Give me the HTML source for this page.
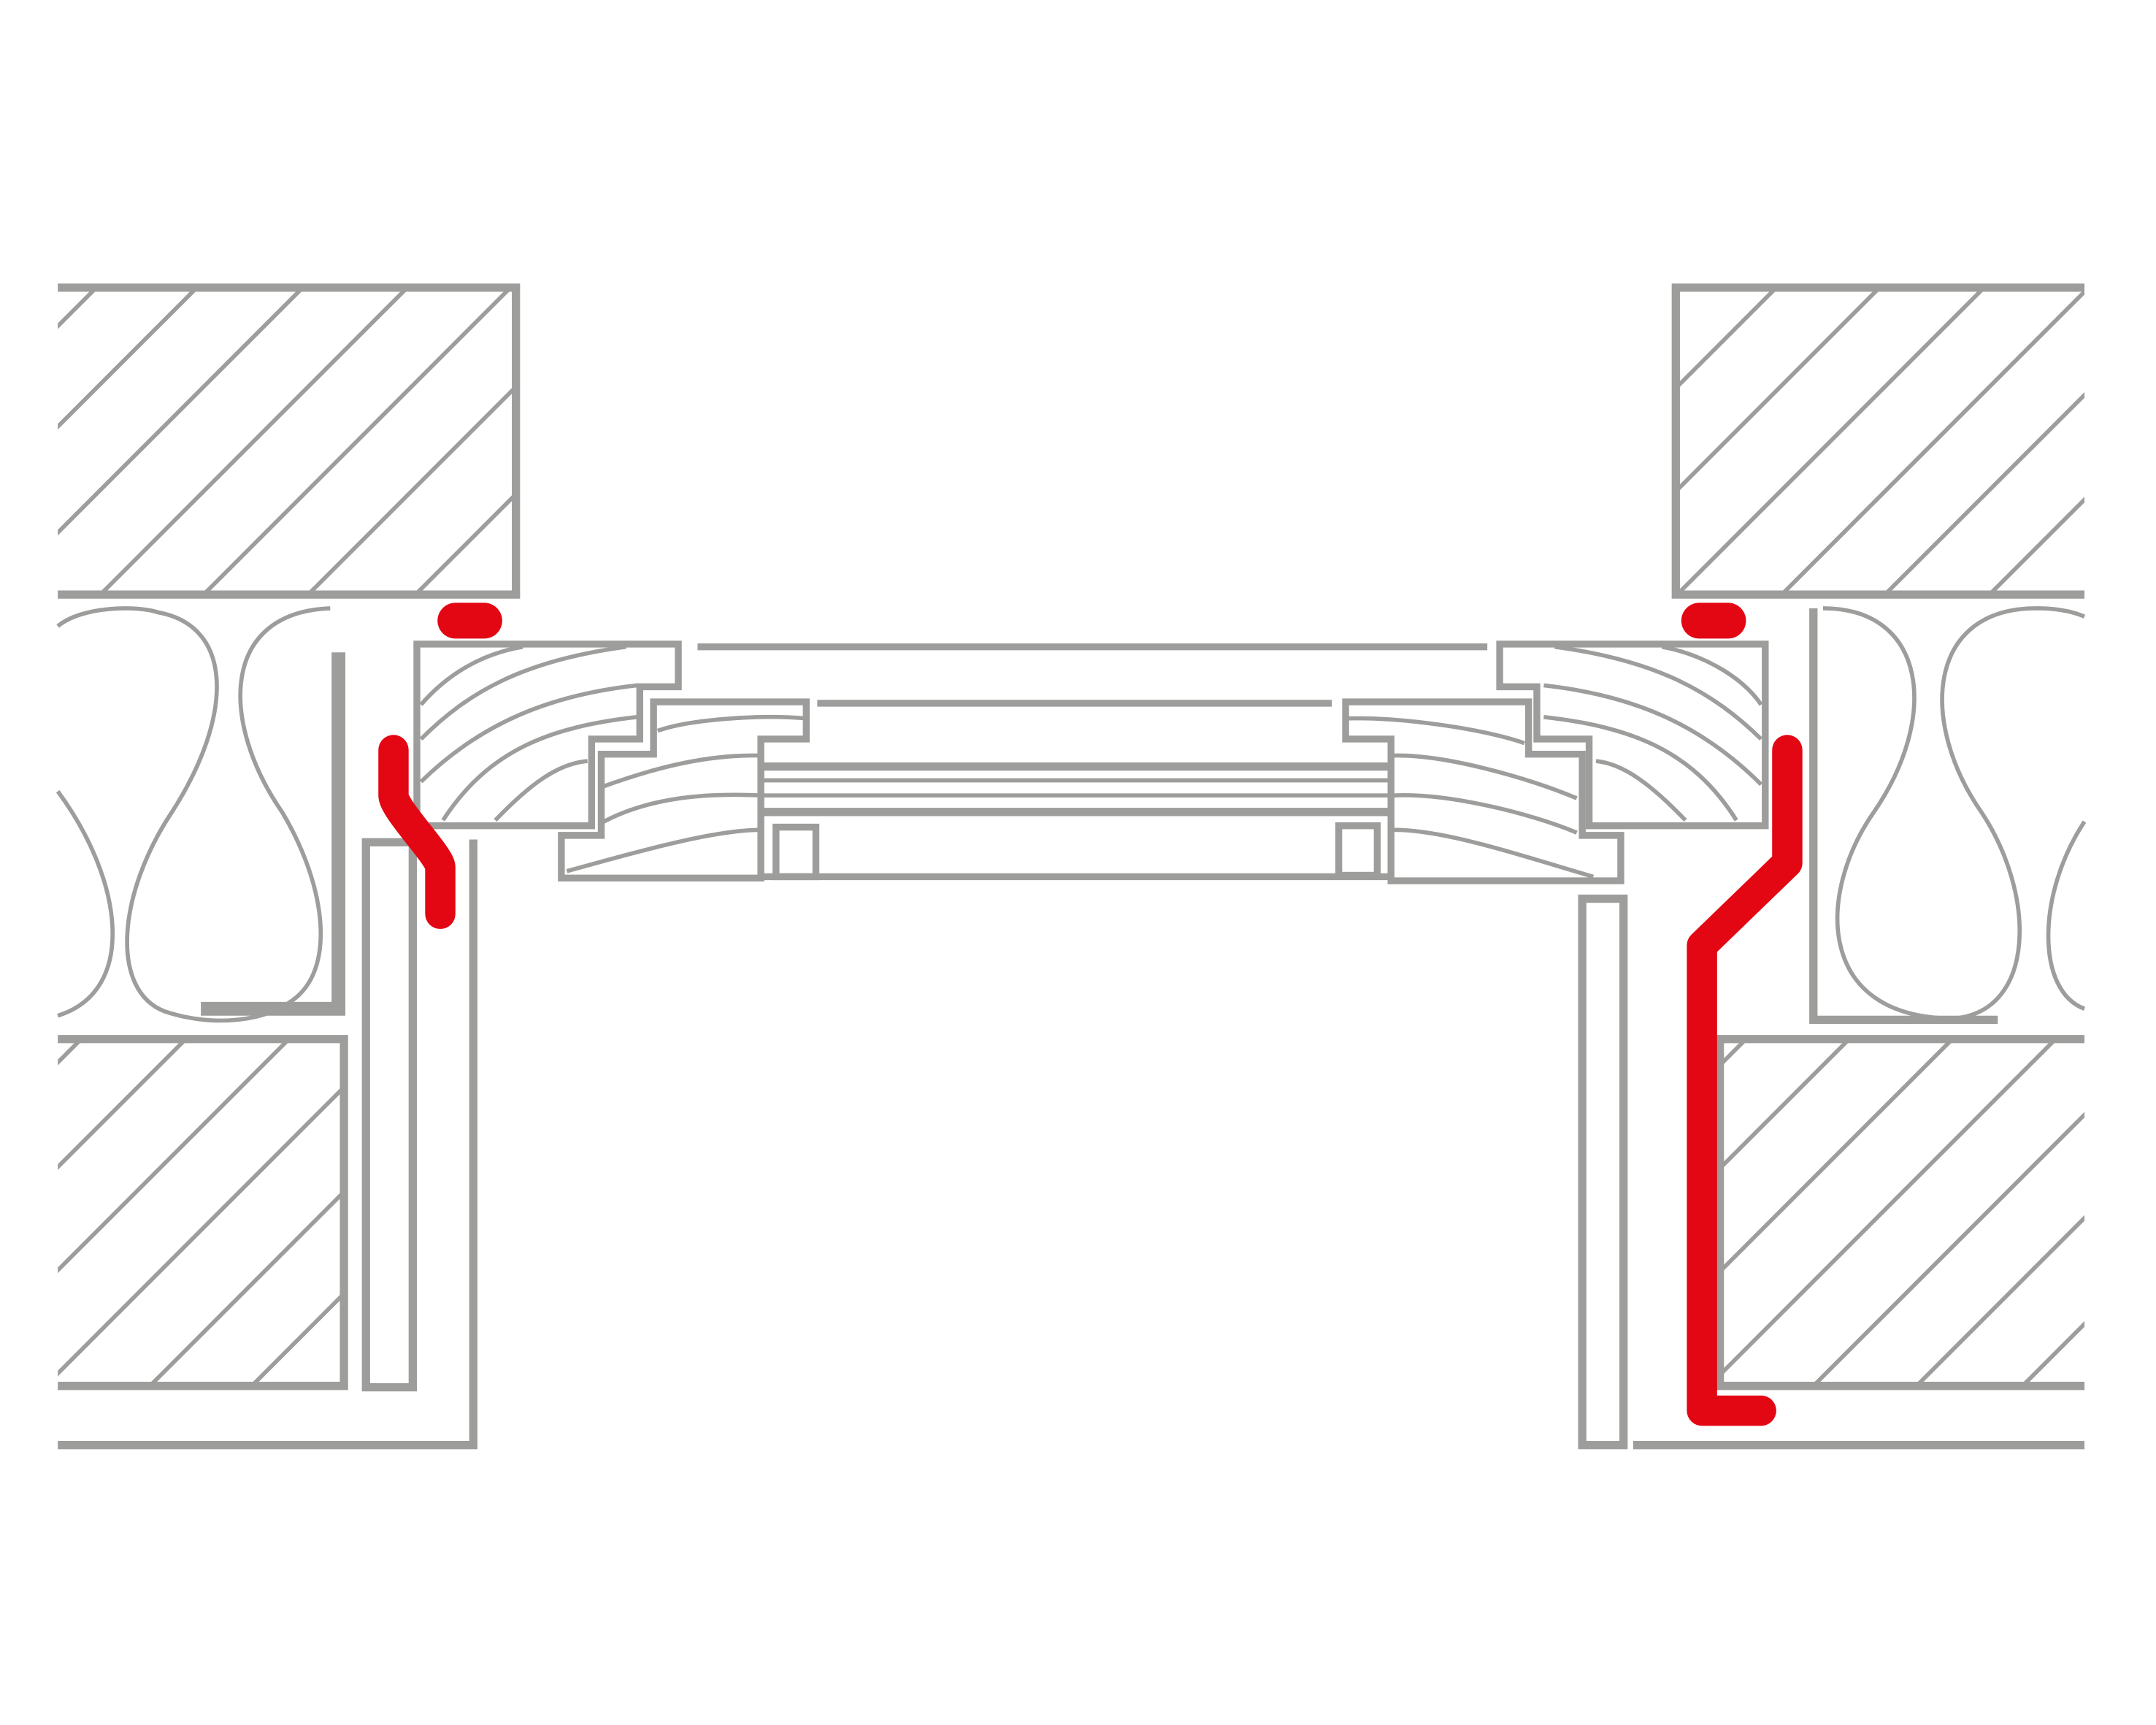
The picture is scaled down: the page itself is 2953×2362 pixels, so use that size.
<!DOCTYPE html>
<html><head><meta charset="utf-8"><style>html,body{margin:0;padding:0;background:#fff;width:2953px;height:2362px;overflow:hidden}svg{display:block}</style></head>
<body>
<svg width="2953" height="2362" viewBox="0 0 1567 1253.4" preserveAspectRatio="none" xmlns="http://www.w3.org/2000/svg">
<defs>
<clipPath id="c1"><rect x="42" y="211" width="331" height="219"/></clipPath>
<clipPath id="c2"><rect x="42" y="757" width="206" height="248"/></clipPath>
<clipPath id="c3"><rect x="1220" y="211" width="295" height="219"/></clipPath>
<clipPath id="c4"><rect x="1252" y="757" width="263" height="248"/></clipPath>
</defs>
<g fill="none" stroke="#9d9d9c" stroke-width="3">
<g clip-path="url(#c1)">
<path d="M0,279 L400,-121 M0,352 L500,-148 M0,429 L600,-171 M0,505 L600,-95 M0,580 L600,-20 M0,656 L600,56 M0,734 L600,134"/>
</g>
<g clip-path="url(#c2)">
<path d="M0,814 L900,-86 M0,890 L900,-10 M0,965 L900,65 M0,1040 L900,140 M0,1116 L900,216 M0,1190 L900,290"/>
</g>
<g clip-path="url(#c3)">
<path d="M0,1500 L1500,0 M0,1575 L1575,0 M0,1651 L1651,0 M0,1727 L1727,0 M0,1802 L1802,0 M0,1878 L1878,0"/>
</g>
<g clip-path="url(#c4)">
<path d="M0,2024 L2024,0 M0,2099 L2099,0 M0,2174 L2174,0 M0,2249 L2249,0 M0,2325 L2325,0 M0,2400 L2400,0 M0,2477 L2477,0"/>
</g>
</g>
<g fill="none" stroke="#9d9d9c" stroke-width="6">
<path d="M42,209 H375 V432 H42"/>
<path d="M42,755 H250 V1007 H42"/>
<path d="M1515,209 H1218 V432 H1515"/>
<path d="M1515,755 H1250 V1007 H1515"/>
<path d="M42,1050 H344 V610"/>
<path d="M1187,1050 H1515"/>
<rect x="266" y="612" width="34" height="396"/>
<rect x="1150" y="653" width="30" height="397"/>
<path d="M1318,442 V741 H1452"/>
</g>
<path d="M246,474 V733 H146" fill="none" stroke="#9d9d9c" stroke-width="10"/>
<g fill="none" stroke="#9d9d9c" stroke-width="3">
<path d="M42,455 C60,440 100,440 115,445 C170,455 170,520 125,590 C85,650 80,720 120,735 C150,745 190,745 215,725 C245,700 235,640 205,590 C160,525 160,445 240,442"/>
<path d="M42,575 C90,640 100,720 42,738"/>
<path d="M1325,442 C1400,442 1410,520 1362,590 C1320,650 1320,740 1420,740 C1480,735 1480,650 1440,590 C1395,525 1400,442 1480,442 C1500,442 1510,446 1515,448"/>
<path d="M1515,597 C1480,650 1480,720 1515,733"/>
</g>
<g fill="none" stroke="#9d9d9c" stroke-width="5">
<path d="M303,468 H493 V499 H465 V537 H430 V600 H303 Z"/>
<path d="M475,510 H586 V537 H553 V638 H408 V607 H437 V548 H475 Z"/>
<rect x="564" y="601" width="29" height="36"/>
<path d="M1090,468 H1283 V600 H1155 V537 H1117 V499 H1090 Z"/>
<path d="M978,510 H1111 V548 H1150 V607 H1178 V640 H1011 V537 H978 Z"/>
<rect x="973" y="600" width="28" height="36"/>
<path d="M507,470 H1081 M594,511 H968 M553,637 H1011"/>
<path d="M553,557 H1013 M553,590 H1013" stroke-width="6"/>
<path d="M553,567 H1013 M553,578 H1013" stroke-width="3"/>
</g>
<g fill="none" stroke="#9d9d9c" stroke-width="3">
<path d="M306,512 C325,490 350,475 380,470"/>
<path d="M306,537 C340,503 380,480 455,470"/>
<path d="M306,568 C350,525 400,505 463,498"/>
<path d="M322,596 C355,545 400,528 463,521"/>
<path d="M360,596 C385,570 405,555 427,553"/>
<path d="M437,572 C470,560 510,548 553,549"/>
<path d="M437,598 C470,580 510,576 553,578"/>
<path d="M412,633 C470,617 520,603 553,603"/>
<path d="M478,531 C500,523 550,519 586,522"/>
</g>
<g fill="none" stroke="#9d9d9c" stroke-width="3">
<path d="M1280,512 C1265,490 1235,475 1208,470"/>
<path d="M1280,537 C1245,503 1205,480 1130,470"/>
<path d="M1280,570 C1235,525 1185,505 1122,498"/>
<path d="M1262,596 C1230,545 1185,528 1122,521"/>
<path d="M1225,596 C1200,570 1180,555 1160,553"/>
<path d="M1146,580 C1110,565 1050,548 1013,549"/>
<path d="M1146,605 C1110,590 1050,576 1013,578"/>
<path d="M1158,637 C1100,620 1050,603 1013,603"/>
<path d="M1108,540 C1080,530 1020,521 980,522"/>
</g>
<g fill="none" stroke="#e30613" stroke-linecap="round" stroke-linejoin="round">
<path d="M1299,545 V627 L1237,687 V1025 H1280" stroke-width="22"/>
<path d="M286,545 V578 C286,588 320,622 320,630 V664" stroke-width="22"/>
<path d="M331,451 H352 M1235,451 H1256" stroke-width="26"/>
</g>
</svg>
</body></html>
